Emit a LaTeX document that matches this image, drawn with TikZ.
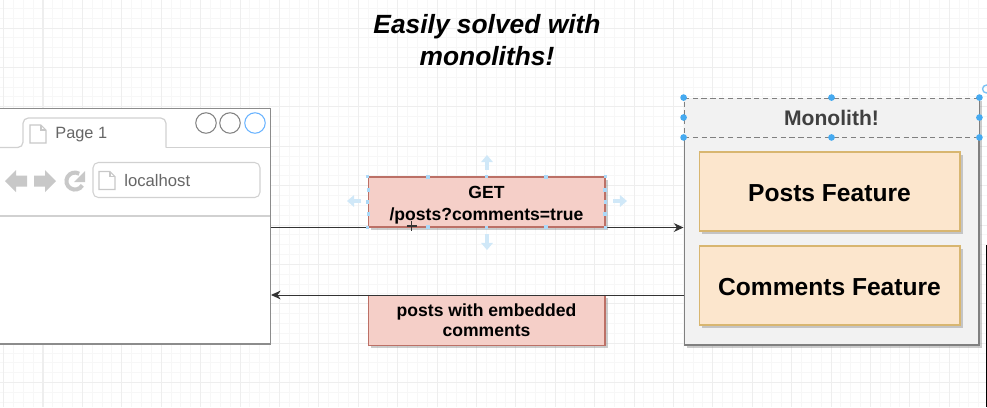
\documentclass[tikz,border=0pt]{standalone}
\usepackage{fontspec}
\setmainfont{Liberation Sans}
\usetikzlibrary{arrows.meta, positioning, calc, shadows, backgrounds}
\definecolor{gridmajor}{RGB}{238,238,238}
\definecolor{gridminor}{RGB}{247,247,247}
\definecolor{iconsgray}{RGB}{200,200,200}
\definecolor{selblue}{RGB}{70,170,240}
\definecolor{hintblue}{RGB}{208,232,248}
\definecolor{msgfill}{RGB}{245,207,200}
\definecolor{msgline}{RGB}{188,112,102}
\definecolor{featfill}{RGB}{252,230,205}
\definecolor{featline}{RGB}{216,182,112}

\begin{document}
\begin{tikzpicture}[
    x=0.02cm, y=-0.02cm,
    % Define box styles
    msgbox/.style={
        rectangle,
        draw=msgline,
        fill=msgfill,
        semithick,
        minimum width=4.74cm,
        minimum height=1cm,
        align=center,
        inner sep=0pt,
        drop shadow={shadow xshift=1.5pt, shadow yshift=-1.5pt, opacity=0.4},
        font=\fontsize{10}{12.5}\selectfont\bfseries
    },
    featurebox/.style={
        rectangle,
        draw=featline,
        fill=featfill,
        semithick,
        minimum width=5.22cm,
        minimum height=1.58cm,
        inner sep=0pt,
        text height=11.5pt,
        text depth=0pt,
        drop shadow={shadow xshift=1.5pt, shadow yshift=-1.5pt, opacity=0.4},
        font=\fontsize{14}{17}\selectfont\bfseries
    },
    winbtn/.style={circle, draw=black!50, fill=white, line width=0.6pt, minimum size=0.41cm, inner sep=0pt},
    graytext/.style={text=black!60, inner sep=0pt, anchor=west},
    handle/.style={circle, fill=selblue, inner sep=0pt, minimum size=3.8pt},
    tinyhandle/.style={rectangle, fill=selblue!45, inner sep=0pt, minimum size=2.2pt},
    hintarrow/.style={draw=hintblue, line width=1.8pt, -{Triangle[length=4pt,width=6.5pt]}},
    flow/.style={draw=black!80, line width=0.55pt, -{Stealth[length=5.5pt,width=5pt]}},
    pageicon/.pic={
        \draw[iconsgray, line width=0.6pt, fill=white] (-8,-9) -- (3,-9) -- (8,-4) -- (8,9) -- (-8,9) -- cycle;
        \draw[iconsgray, line width=0.6pt] (3,-9) -- (3,-4) -- (8,-4);
    }
]
    \useasboundingbox (0,0) rectangle (987,407);

    % --- background grid ---
    \begin{pgfonlayer}{background}
        \fill[white] (0,0) rectangle (987,407);
        \foreach \i in {0,...,100} \draw[gridminor, line width=0.57pt] ({3.6+9.85*\i},0) -- ({3.6+9.85*\i},407);
        \foreach \i in {0,...,41} \draw[gridminor, line width=0.57pt] (0,{-1.55+9.85*\i}) -- (987,{-1.55+9.85*\i});
        \foreach \i in {0,...,25} \draw[gridmajor, line width=0.57pt] ({3.6+39.4*\i},0) -- ({3.6+39.4*\i},407);
        \foreach \i in {0,...,10} \draw[gridmajor, line width=0.57pt] (0,{28+39.4*\i}) -- (987,{28+39.4*\i});
    \end{pgfonlayer}

    % --- title ---
    \node[font=\fontsize{15}{18.6}\selectfont\bfseries\itshape, align=center] (title) at (487,40) {Easily solved with\\monoliths!};

    % --- browser window ---
    \node[rectangle, draw=black!45, fill=white, line width=0.6pt, minimum width=5.46cm, minimum height=4.72cm, inner sep=0pt] (browser) at (134,226) {};
    \draw[black!18, line width=0.7pt, rounded corners=3pt] (0,147.5) -- (23,147.5) -- (23,118) -- (166,118) -- (166,147.5);
    \draw[black!18, line width=0.7pt] (166,147.5) -- (270,147.5);
    \draw[black!18, line width=0.7pt] (0,216) -- (270,216);
    \pic at (38,134) {pageicon};
    \node[graytext, font=\fontsize{9.3}{11}\selectfont] (tabname) at (55,135) {Page 1};
    \node[winbtn] (btnone) at (206,123) {};
    \node[winbtn] (btntwo) at (230,123) {};
    \node[winbtn, draw=blue!50!cyan!60] (btnthree) at (255,123) {};

    % toolbar icons
    \fill[iconsgray] (5,181) -- (16,170) -- (16,175.5) -- (27,175.5) -- (27,186.5) -- (16,186.5) -- (16,192) -- cycle;
    \fill[iconsgray] (56,181) -- (45,170) -- (45,175.5) -- (34,175.5) -- (34,186.5) -- (45,186.5) -- (45,192) -- cycle;
    \draw[iconsgray, line width=2.3pt] (79.2,173.7) arc (-60:-330:8.5);
    \fill[iconsgray] (85,171) -- (85,182) -- (74,182) -- cycle;
    \node[rectangle, rounded corners=3pt, draw=black!18, fill=white, line width=0.6pt, minimum width=3.34cm, minimum height=0.7cm, inner sep=0pt] (addressbar) at (176.5,180) {};
    \pic at (107,180.5) {pageicon};
    \node[graytext, font=\fontsize{9.5}{11}\selectfont] (urltext) at (124,181) {localhost};

    % --- monolith ---
    \node[rectangle, draw=black!50, fill=black!5, line width=0.6pt, minimum width=5.9cm, minimum height=4.94cm, inner sep=0pt, drop shadow={shadow xshift=1.5pt, shadow yshift=-1.5pt, opacity=0.4}] (monolith) at (831.5,221.5) {};
    \node[rectangle, draw=black!50, fill=black!5, densely dashed, line width=0.5pt, minimum width=5.9cm, minimum height=0.78cm, inner sep=0pt, text=black!75, font=\fontsize{12}{14}\selectfont\bfseries] (header) at (831.5,117.5) {Monolith!};
    \node[featurebox] (posts) at (829.5,191.5) {Posts Feature};
    \node[featurebox] (comments) at (829.5,285.5) {Comments Feature};

    % --- messages ---
    \node[msgbox] (request) at (486.5,202) {\rule{0pt}{10.5pt}GET\\/posts?comments=true};
    \node[msgbox] (response) at (486.5,320.5) {posts with embedded\\[-1.1pt]comments};
    \begin{pgfonlayer}{background}
        \draw[flow] (browser.east |- request.south) -- (monolith.west |- request.south);
    \end{pgfonlayer}
    \draw[flow] (monolith.west |- response.north) -- (browser.east |- response.north);

    % selection handles
    \foreach \a in {north west,north,north east,west,east,south west,south,south east}
        \node[handle] at (header.\a) {};
    \node[circle, draw=selblue!70, line width=0.8pt, inner sep=0pt, minimum size=4.5pt] (rotate) at (986.5,89) {};
    \foreach \a in {north west,north,north east,west,east,south west,south,south east}
        \node[tinyhandle] at (request.\a) {};
    \foreach \x in {428,546} {
        \node[tinyhandle] at (\x,177) {};
        \node[tinyhandle] at (\x,227) {};
    }
    \foreach \y in {190,214} {
        \node[tinyhandle] at (368.5,\y) {};
        \node[tinyhandle] at (605,\y) {};
    }
    \draw[hintarrow] (487,170) -- (487,155);
    \draw[hintarrow] (487,234) -- (487,250);
    \draw[hintarrow] (361,201) -- (347,201);
    \draw[hintarrow] (613,201) -- (627,201);

    % mouse cursor and edge of the next window
    \coordinate (cursor) at (411.5,226);
    \draw[black!80, line width=0.8pt] ($(cursor)+(-5,0)$) -- ($(cursor)+(5,0)$);
    \draw[black!80, line width=0.8pt] ($(cursor)+(0,-5)$) -- ($(cursor)+(0,5)$);
    \fill[black] (985.5,245) rectangle (987,407);
\end{tikzpicture}
\end{document}
